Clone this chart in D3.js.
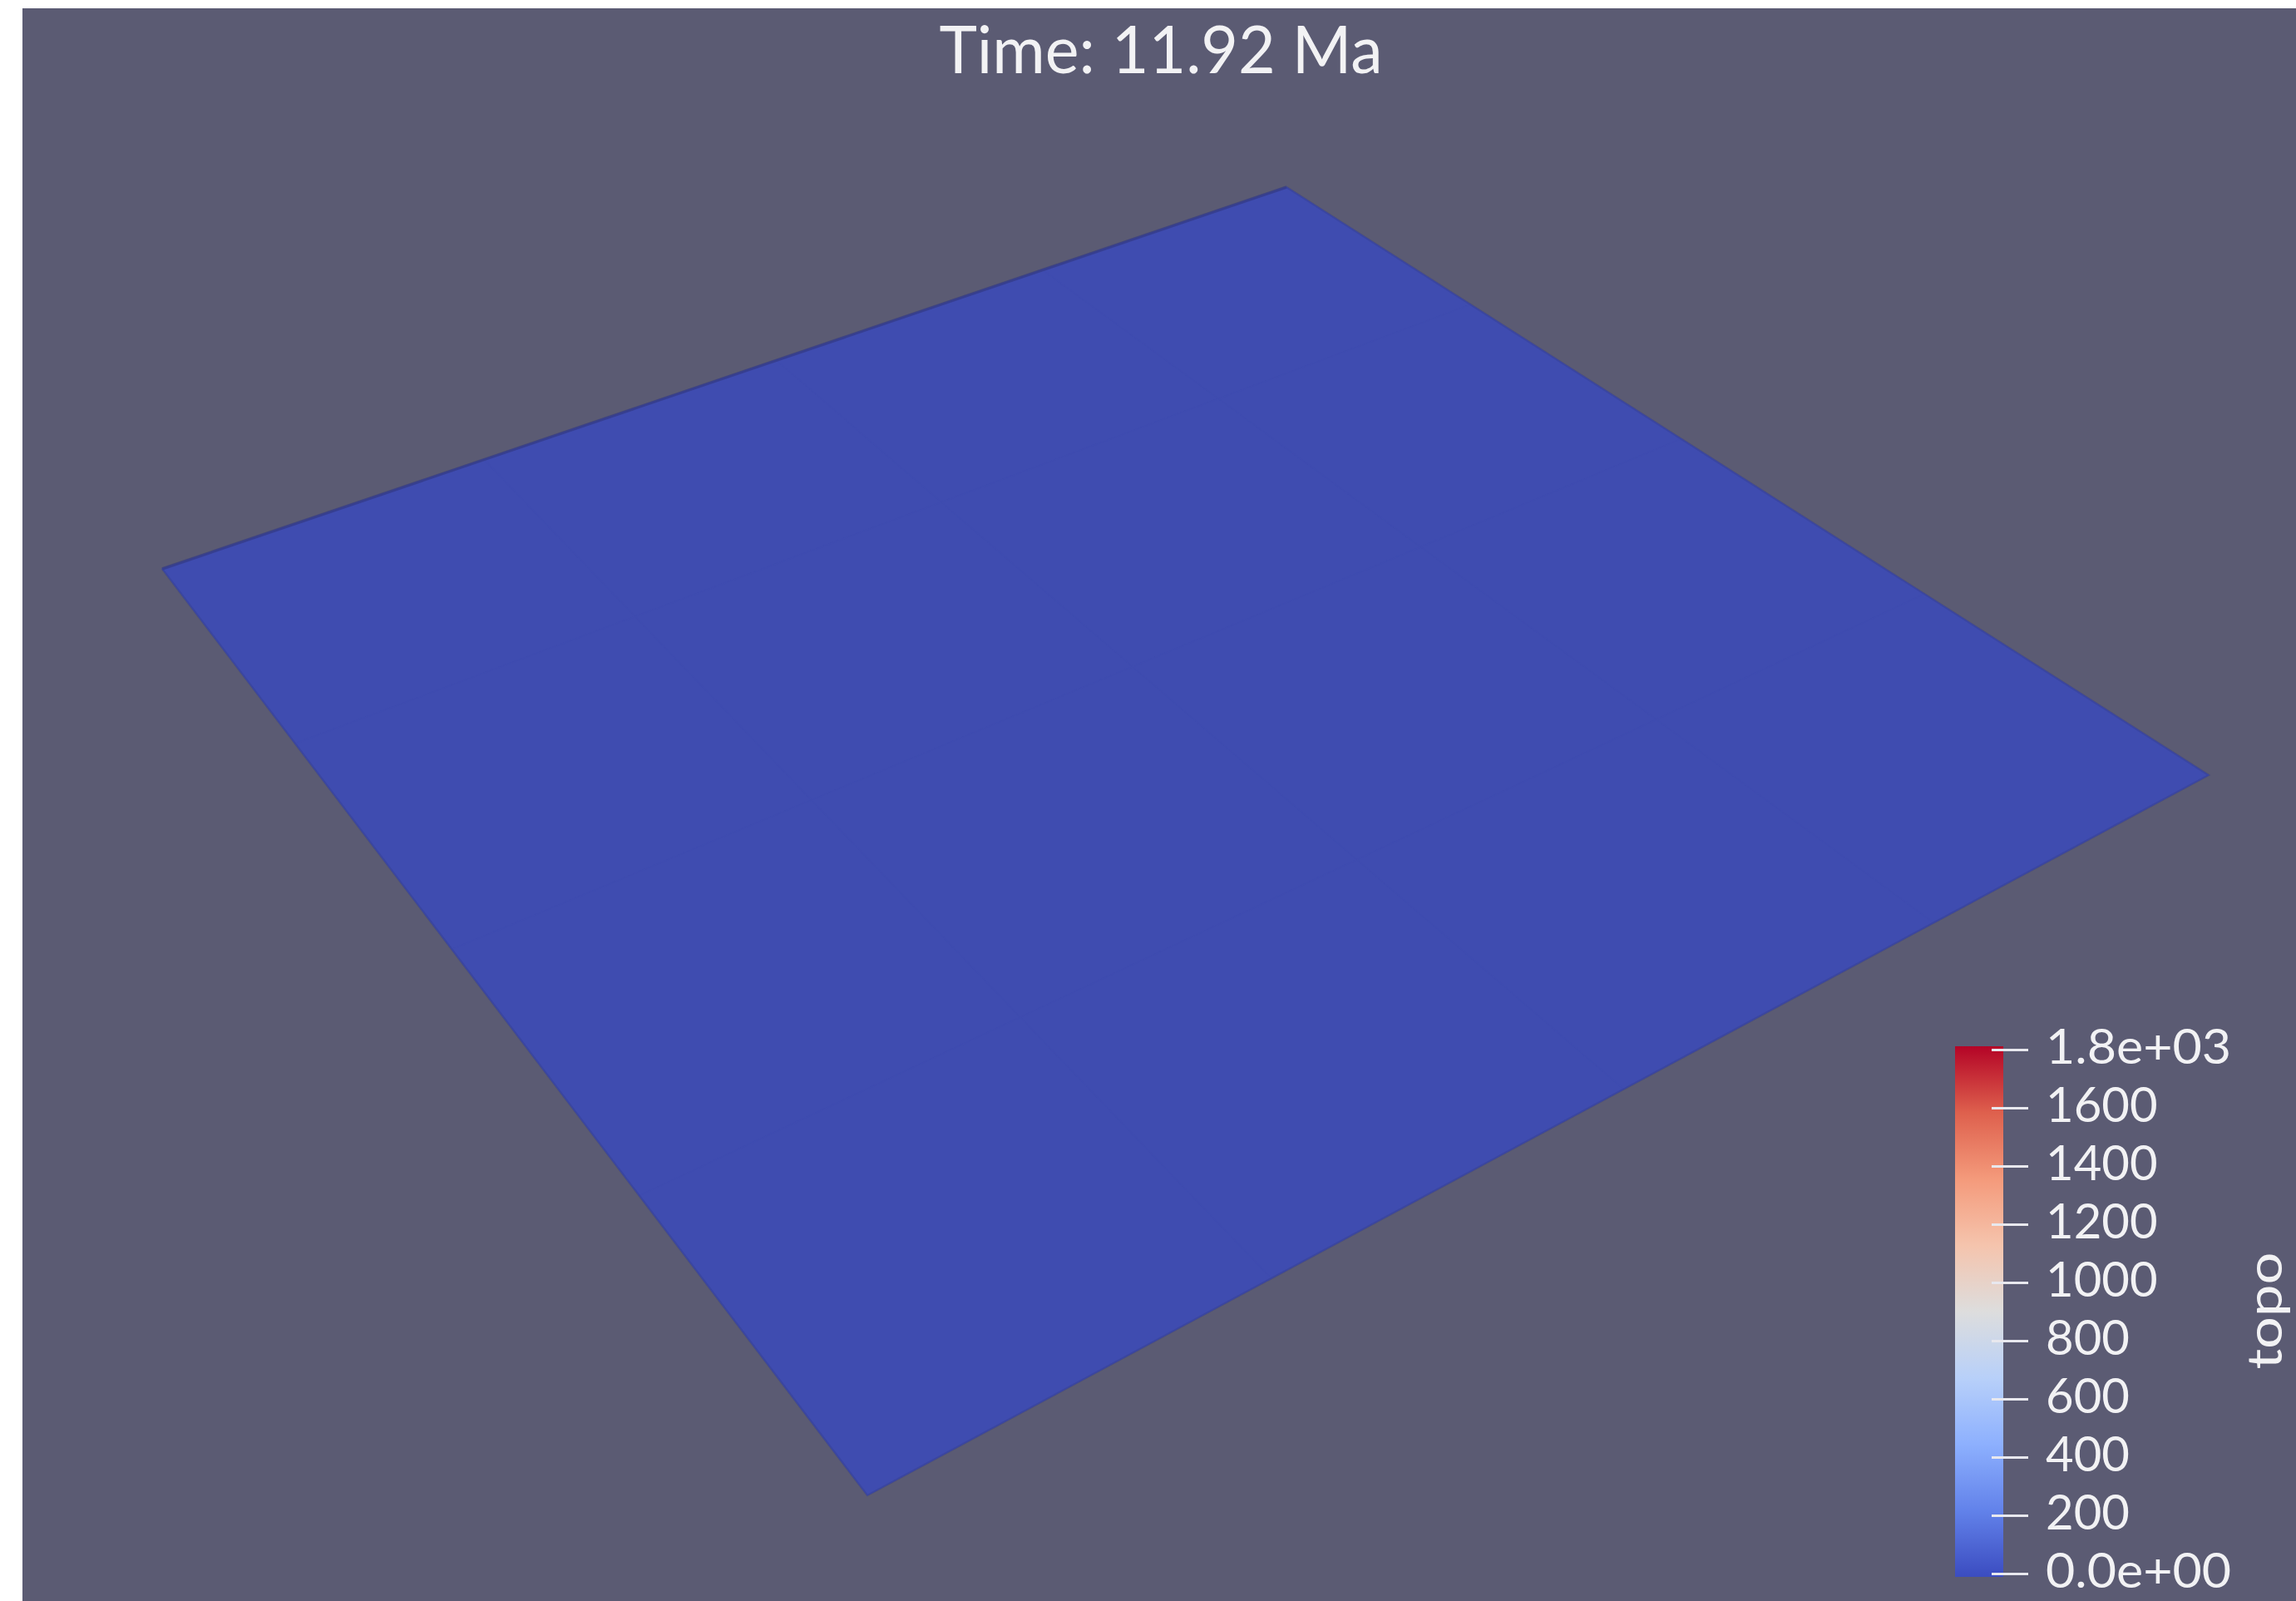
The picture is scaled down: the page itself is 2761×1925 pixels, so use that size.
<!DOCTYPE html>
<html>
<head>
<meta charset="utf-8">
<script src="https://cdn.jsdelivr.net/npm/d3@7/dist/d3.min.js"></script>
<style>
  html, body { margin: 0; padding: 0; background: #ffffff; overflow: hidden; }
  svg { display: block; }
  text { font-family: "Lato", "DejaVu Sans", sans-serif; fill: #f2f2f4; }
</style>
</head>
<body>
<svg id="chart" width="2761" height="1925"></svg>
<script>
// ---- data -------------------------------------------------------------
const timeMa = 11.92;                       // model time shown in the header
const fieldName = "topo";                   // scalar field on the surface
const topoRange = [0, 1800];                // colour-map range (m)
const tickValues = [0, 200, 400, 600, 800, 1000, 1200, 1400, 1600, 1800];
const tickLabels = ["0.0e+00", "200", "400", "600", "800", "1000", "1200", "1400", "1600", "1.8e+03"];
// surface elevation sampled on a coarse grid (all cells at sea level)
const topoGrid = [
  [0, 0, 0, 0],
  [0, 0, 0, 0],
  [0, 0, 0, 0],
  [0, 0, 0, 0]
];
// Cool-to-Warm diverging colour map (fractions of the range → colour)
const cmapFrac = [0, 0.125, 0.25, 0.375, 0.5, 0.625, 0.75, 0.875, 1];
const cmapColors = ["#3b4cc0", "#6282ea", "#8db0fe", "#b8d0f9", "#dddddd",
                    "#f5c4ad", "#f49a7b", "#de604d", "#b40426"];

// ---- layout -----------------------------------------------------------
const W = 2761, H = 1925;
const svg = d3.select("#chart");
const bg = "#5b5b73";

svg.append("rect").attr("x", 27).attr("y", 10)
  .attr("width", W - 27).attr("height", H - 10).attr("fill", bg);

const color = d3.scaleLinear()
  .domain(cmapFrac.map(f => topoRange[0] + f * (topoRange[1] - topoRange[0])))
  .range(cmapColors)
  .interpolate(d3.interpolateRgb);

// ---- camera: projective map of the model's unit square onto the screen
const camCorners = [[195, 684], [1547, 225], [2656, 932], [1043, 1798]]; // (0,0),(1,0),(1,1),(0,1)
function solveHomography(dst) {
  const src = [[0, 0], [1, 0], [1, 1], [0, 1]];
  const A = [], b = [];
  for (let i = 0; i < 4; i++) {
    const [x, y] = src[i], [u, v] = dst[i];
    A.push([x, y, 1, 0, 0, 0, -u * x, -u * y]); b.push(u);
    A.push([0, 0, 0, x, y, 1, -v * x, -v * y]); b.push(v);
  }
  const n = 8;
  for (let c = 0; c < n; c++) {
    let p = c;
    for (let r = c + 1; r < n; r++) if (Math.abs(A[r][c]) > Math.abs(A[p][c])) p = r;
    [A[c], A[p]] = [A[p], A[c]]; [b[c], b[p]] = [b[p], b[c]];
    for (let r = 0; r < n; r++) {
      if (r === c) continue;
      const f = A[r][c] / A[c][c];
      for (let k = c; k < n; k++) A[r][k] -= f * A[c][k];
      b[r] -= f * b[c];
    }
  }
  const h = b.map((v, i) => v / A[i][i]);
  return ([x, y]) => {
    const w = h[6] * x + h[7] * y + 1;
    return [(h[0] * x + h[1] * y + h[2]) / w, (h[3] * x + h[4] * y + h[5]) / w];
  };
}
const project = solveHomography(camCorners);

// simple flat lighting: the lit surface is slightly dimmer than the map colour
const shade = c => d3.interpolateRgb(c, "#4e4a6e")(0.2);

const nR = topoGrid.length, nC = topoGrid[0].length;
const cells = [];
topoGrid.forEach((row, i) => row.forEach((v, j) => cells.push({ i, j, v })));

const surf = svg.append("g").attr("class", "surface");
surf.selectAll("path.cell").data(cells).join("path")
  .attr("class", "cell")
  .attr("d", d => {
    const x0 = d.j / nC, x1 = (d.j + 1) / nC, y0 = d.i / nR, y1 = (d.i + 1) / nR;
    return d3.line()([[x0, y0], [x1, y0], [x1, y1], [x0, y1]].map(project)) + "Z";
  })
  .attr("fill", d => shade(color(d.v)))
  .attr("stroke", d => shade(color(d.v)))
  .attr("stroke-width", 1.2)
  .attr("stroke-linejoin", "round");

// outline of the surface, darker along the far-left edge
const edge = d3.line()([[0, 0], [1, 0], [1, 1], [0, 1], [0, 0]].map(project));
surf.append("path").attr("d", edge).attr("fill", "none")
  .attr("stroke", "#343c88").attr("stroke-opacity", 0.35).attr("stroke-width", 2.5);
surf.append("path").attr("d", d3.line()([[0, 0], [1, 0]].map(project)))
  .attr("fill", "none").attr("stroke", "#333a86").attr("stroke-opacity", 0.6)
  .attr("stroke-width", 3.5);

// ---- header -----------------------------------------------------------
svg.append("text")
  .attr("x", 1396).attr("y", 88)
  .attr("text-anchor", "middle")
  .attr("font-size", 80)
  .attr("textLength", 533).attr("lengthAdjust", "spacingAndGlyphs")
  .text(`Time: ${timeMa.toFixed(2)} Ma`);

// ---- colour bar -------------------------------------------------------
const barX = 2351, barW = 58;
const yBar = d3.scaleLinear().domain(topoRange).range([1892, 1262]);

const defs = svg.append("defs");
const grad = defs.append("linearGradient").attr("id", "cbar")
  .attr("x1", 0).attr("y1", 1).attr("x2", 0).attr("y2", 0);
cmapFrac.forEach((f, k) => grad.append("stop")
  .attr("offset", f).attr("stop-color", cmapColors[k]));

svg.append("rect")
  .attr("x", barX).attr("y", yBar(topoRange[1]) - 4)
  .attr("width", barW).attr("height", yBar(topoRange[0]) - yBar(topoRange[1]) + 8)
  .attr("fill", "url(#cbar)");

const axis = d3.axisRight(yBar)
  .tickValues(tickValues)
  .tickSize(44)
  .tickPadding(21)
  .tickFormat((d, i) => tickLabels[i]);

const gAxis = svg.append("g").attr("transform", "translate(2395,0)").call(axis);
gAxis.select(".domain").remove();
gAxis.selectAll(".tick line").attr("stroke", "#e8e8ee").attr("stroke-width", 3);
gAxis.selectAll(".tick text")
  .attr("fill", "#f2f2f4")
  .attr("font-size", 58)
  .attr("font-family", "Lato, DejaVu Sans, sans-serif")
  .attr("dy", "0.29em")
  .each(function (d, i) {
    const len = this.getComputedTextLength();
    const stretch = tickLabels[i].includes("e") ? 1.05 : 1.0;
    d3.select(this).attr("textLength", len * stretch).attr("lengthAdjust", "spacingAndGlyphs");
  });

svg.append("text")
  .attr("transform", "translate(2744,1576) rotate(-90)")
  .attr("text-anchor", "middle")
  .attr("font-size", 58)
  .attr("textLength", 141).attr("lengthAdjust", "spacingAndGlyphs")
  .text(fieldName);
</script>
</body>
</html>
